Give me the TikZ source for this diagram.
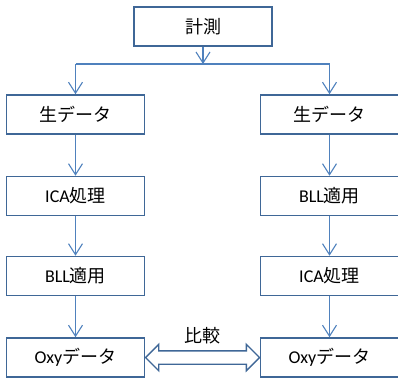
\documentclass[tikz,border=0pt]{standalone}
\usepackage{fontspec}
\setmainfont{Carlito}
\newfontfamily\cjk{Noto Sans CJK JP}
\usetikzlibrary{arrows.meta,shapes.arrows}
\definecolor{boxc}{HTML}{3F6797}
\definecolor{arrc}{HTML}{4F81BD}
\tikzset{
  box/.style={draw=boxc, line width=1.6pt, fill=white, minimum width=138pt, minimum height=39pt, inner sep=0pt, font=\fontsize{18}{20}\selectfont},
  arr/.style={draw=arrc, line width=1.1pt, -{Straight Barb[length=11pt,width=14pt,line width=1.1pt]}},
  ln/.style={draw=arrc, line width=1.1pt},
}
\newcommand{\jp}[1]{{\cjk #1}}
\begin{document}
\begin{tikzpicture}[x=1pt,y=-1pt]
\useasboundingbox (0,0) rectangle (398,378);
\begin{scope}
\clip (0,0) rectangle (398,378);
\node[box] (top) at (203,26.5) {\jp{計測}};
\node[box] (l1) at (75.5,114.5) {\jp{生データ}};
\node[box] (r1) at (329.5,114.5) {\jp{生データ}};
\node[box] (l2) at (75.5,196) {ICA\jp{処理}};
\node[box] (r2) at (329.5,196) {BLL\jp{適用}};
\node[box] (l3) at (75.5,276) {BLL\jp{適用}};
\node[box] (r3) at (329.5,276) {ICA\jp{処理}};
\node[box] (l4) at (75.5,357.5) {Oxy\jp{データ}};
\node[box] (r4) at (329.5,357.5) {Oxy\jp{データ}};
\end{scope}
\coordinate (split) at (203,64);
\coordinate (sl) at (75.5,64);
\coordinate (sr) at (329.5,64);
\draw[arr] (top.south) -- (split);
\draw[ln] (sl) -- (sr);
\draw[arr] (sl) -- (l1.north);
\draw[arr] (sr) -- (r1.north);
\draw[arr] (l1) -- (l2);
\draw[arr] (l2) -- (l3);
\draw[arr] (l3) -- (l4);
\draw[arr] (r1) -- (r2);
\draw[arr] (r2) -- (r3);
\draw[arr] (r3) -- (r4);
\path (l4.east) -- (r4.west) node[midway, double arrow, draw=boxc, fill=white, line width=1.4pt, minimum height=114pt, inner xsep=0pt, inner ysep=6pt, double arrow head extend=6.5pt, double arrow tip angle=90] (cmp) {};
\node[font=\fontsize{18}{20}\selectfont] (lbl) at (202,336) {\jp{比較}};
\end{tikzpicture}
\end{document}
